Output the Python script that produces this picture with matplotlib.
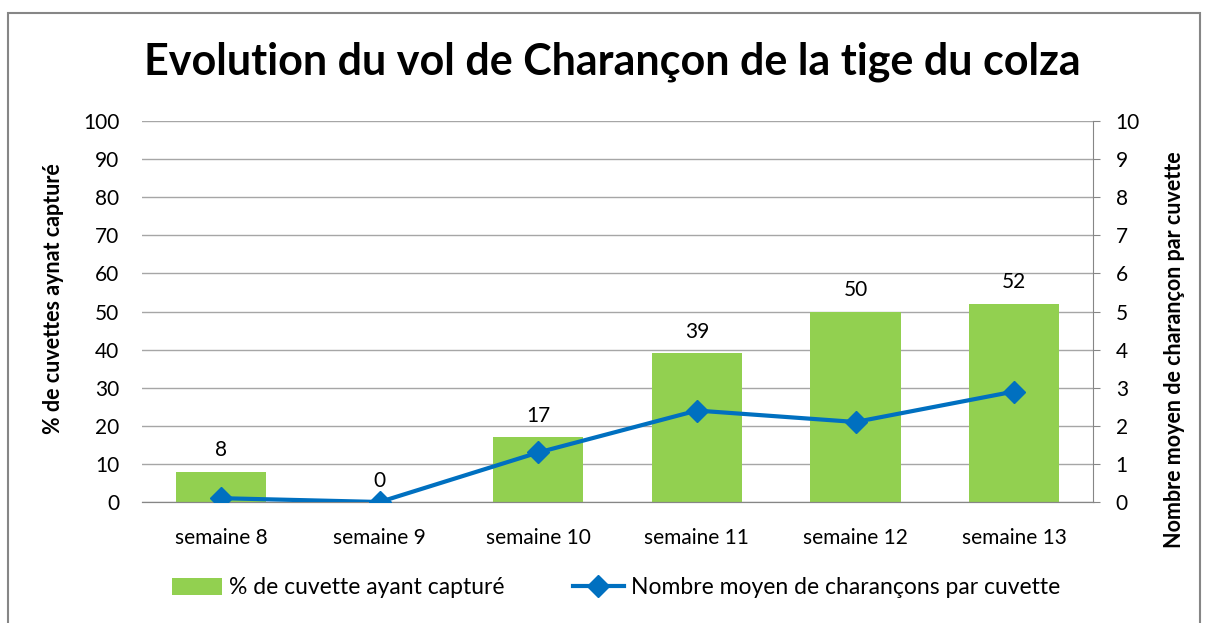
import matplotlib.pyplot as plt
import matplotlib.patches as mpatches
import numpy as np

plt.rcParams['font.family'] = ['Lato', 'DejaVu Sans']

# data
semaines = ['semaine 8', 'semaine 9', 'semaine 10', 'semaine 11', 'semaine 12', 'semaine 13']
pct_cuvettes = [8, 0, 17, 39, 50, 52]
nb_moyen = [0.1, 0.0, 1.3, 2.4, 2.1, 2.9]

green = '#92D050'
blue = '#0070C0'
grey = '#868686'

fig = plt.figure(figsize=(12.05, 6.23), dpi=100)
ax = fig.add_axes([141.7 / 1205, 1 - 502 / 623, (1093.5 - 141.7) / 1205, (502 - 121) / 623])
ax2 = ax.twinx()

x = np.arange(len(semaines))
bars = ax.bar(x, pct_cuvettes, width=0.57, color=green, zorder=2,
              label='% de cuvette ayant capturé')
for xi, v in zip(x, pct_cuvettes):
    ax.text(xi, v + 3, str(v), ha='center', va='bottom', fontsize=15)

line, = ax2.plot(x, nb_moyen, color=blue, lw=3, marker='D', markersize=11,
                 label='Nombre moyen de charançons par cuvette', zorder=3)

ax.set_xlim(-0.5, len(semaines) - 0.5)
ax.set_ylim(0, 100)
ax2.set_ylim(0, 10)
ax.set_yticks(range(0, 101, 10))
ax2.set_yticks(range(0, 11, 1))
ax.set_xticks(x)
ax.set_xticklabels(semaines)

ax.grid(axis='y', color='#A6A6A6', lw=1, zorder=0)
ax.set_axisbelow(True)

for a in (ax, ax2):
    a.spines['top'].set_visible(False)
    a.spines['left'].set_visible(False)
    a.spines['right'].set_visible(False)
    a.spines['bottom'].set_color(grey)
ax2.spines['right'].set_visible(True)
ax2.spines['right'].set_color(grey)

ax.tick_params(axis='y', length=0, pad=16, labelsize=15)
ax.tick_params(axis='x', length=0, pad=19, labelsize=15)
ax2.tick_params(axis='y', length=5, color=grey, pad=11, labelsize=15, direction='out')

ax.set_ylabel('% de cuvettes aynat capturé', fontsize=15.5, fontweight='bold')
ax.yaxis.set_label_coords(-0.082, 0.535)
ax2.set_ylabel('Nombre moyen de charançon par cuvette', fontsize=15.5, fontweight='bold',
               rotation=90)
ax2.yaxis.set_label_coords(1.074, 0.40)

fig.text(0.508, 1 - 62 / 623, 'Evolution du vol de Charançon de la tige du colza',
         ha='center', va='center', fontsize=31, fontweight='bold')

fig.legend(handles=[bars, line], loc='center', bbox_to_anchor=(0.511, 1 - 588 / 623),
           ncol=2, frameon=False, fontsize=16.5, handlelength=2.2, handletextpad=0.3,
           columnspacing=3.0)

# outer chart border
fig.patches.append(mpatches.Rectangle((8 / 1205, -0.05), 1192 / 1205, 1.05 - 13 / 623,
                                      transform=fig.transFigure, fill=False,
                                      edgecolor=grey, lw=1.5))

fig.savefig('out.png', dpi=100)
